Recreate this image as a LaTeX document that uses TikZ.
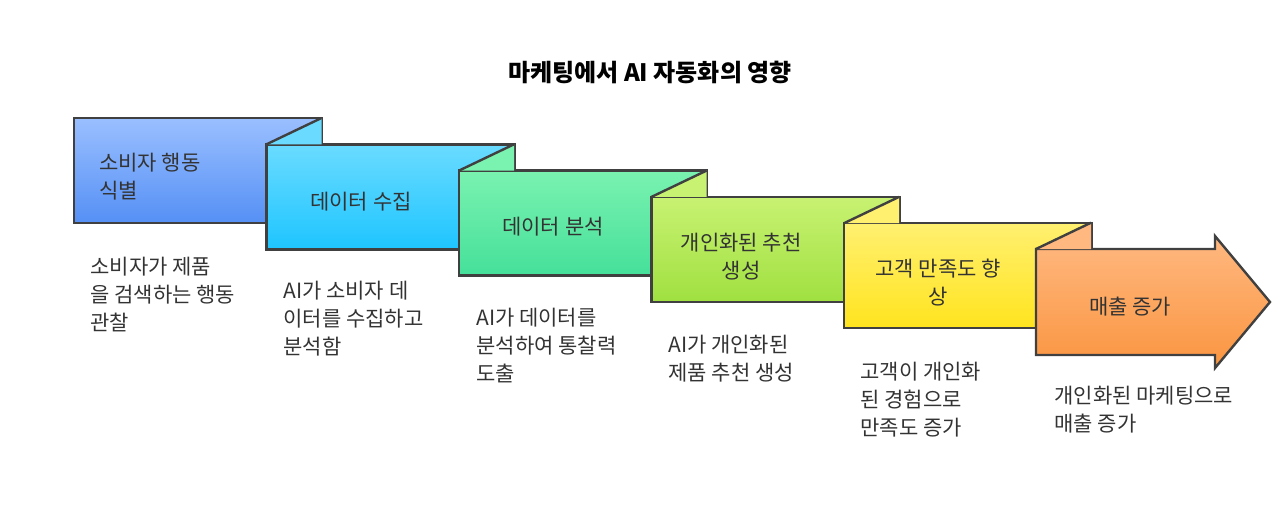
\documentclass[tikz,border=0pt]{standalone}
\usepackage{fontspec}
\setmainfont{Noto Sans CJK KR}
\begin{document}
\begin{tikzpicture}[x=0.5pt,y=-0.5pt]
\useasboundingbox (0,0) rectangle (1280,526);
\tikzset{box/.style={draw=black!75,line width=1.2pt},
 lbl/.style={font=\fontsize{10.5}{14}\selectfont,text=black!80,align=center},
 desc/.style={font=\fontsize{10.5}{14}\selectfont,text=black!80,align=left,anchor=north west,inner sep=0pt}}
\definecolor{a1}{HTML}{9ABFFF}\definecolor{a2}{HTML}{5590F5}
\definecolor{b1}{HTML}{6ADBFF}\definecolor{b2}{HTML}{1EC5FF}
\definecolor{c1}{HTML}{7AF2B0}\definecolor{c2}{HTML}{45E09A}
\definecolor{d1}{HTML}{C8F272}\definecolor{d2}{HTML}{A0E040}
\definecolor{e1}{HTML}{FFF070}\definecolor{e2}{HTML}{FFE41E}
\definecolor{f1}{HTML}{FFB880}\definecolor{f2}{HTML}{FA9540}
\node[font=\fontsize{12}{14}\selectfont\bfseries] (title) at (650,72) {마케팅에서 AI 자동화의 영향};
% boxes
\foreach \i/\ca/\cb in {0/a1/a2,1/b1/b2,2/c1/c2,3/d1/d2,4/e1/e2}{
  \pgfmathsetmacro\xl{74+192.5*\i}\pgfmathsetmacro\yt{118+26.3*\i}
  \draw[box,top color=\ca,bottom color=\cb] (\xl,\yt) rectangle ++(248,105);
  \ifnum\i>0
   \fill[\ca] (\xl,\yt) -- (\xl+55,\yt-26.3) -- (\xl+55,\yt) -- cycle;
   \draw[box] (\xl,\yt) -- (\xl+55,\yt-26.3);
  \fi
}
\draw[box,top color=f1,bottom color=f2] (1036,249) -- (1215,249) -- (1215,236) -- (1270,302) -- (1215,368) -- (1215,355) -- (1036,355) -- cycle;
\fill[f1] (1036,249) -- (1091,222.7) -- (1091,249) -- cycle;
\draw[box] (1036,249) -- (1091,222.7);
% labels
\node[lbl,align=left,anchor=west] (l0) at (92,177) {소비자 행동\\식별};
\node[lbl] (l1) at (361,202) {데이터 수집};
\node[lbl] (l2) at (553,227) {데이터 분석};
\node[lbl] (l3) at (741,257) {개인화된 추천\\생성};
\node[lbl] (l4) at (938,283) {고객 만족도 향\\상};
\node[lbl] (l5) at (1130,307) {매출 증가};
% descriptions
\node[desc] (d0) at (90,257) {소비자가 제품\\을 검색하는 행동\\관찰};
\node[desc] (d1) at (283,281) {AI가 소비자 데\\이터를 수집하고\\분석함};
\node[desc] (d2) at (476,308) {AI가 데이터를\\분석하여 통찰력\\도출};
\node[desc] (d3) at (668,335) {AI가 개인화된\\제품 추천 생성};
\node[desc] (d4) at (860,362) {고객이 개인화\\된 경험으로\\만족도 증가};
\node[desc] (d5) at (1054,386) {개인화된 마케팅으로\\매출 증가};
\end{tikzpicture}
\end{document}
